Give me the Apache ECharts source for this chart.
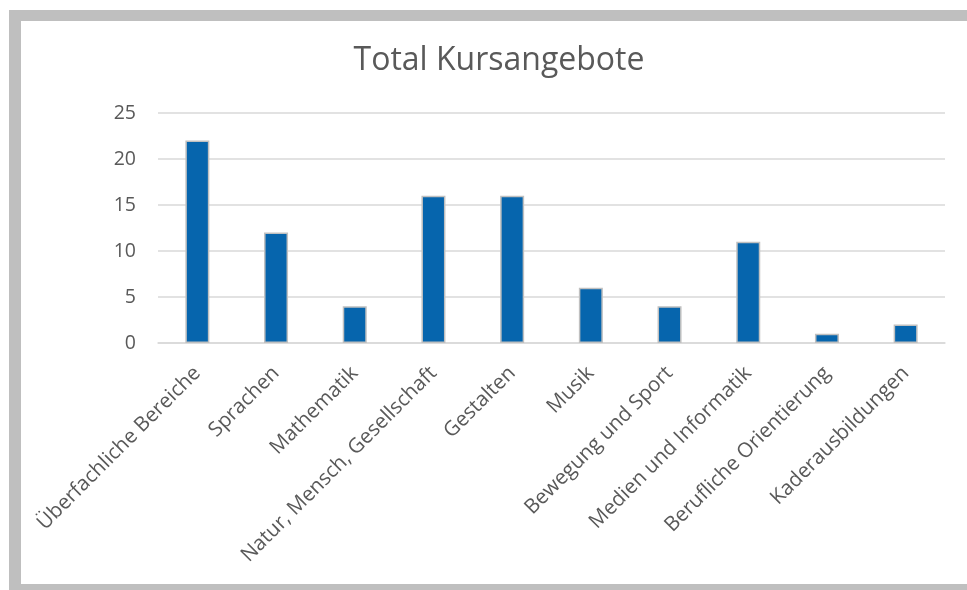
<!DOCTYPE html>
<html><head><meta charset="utf-8">
<script src="https://cdn.jsdelivr.net/npm/echarts@6/dist/echarts.min.js"></script>
<style>html,body{margin:0;padding:0;background:#fff}#c{width:967px;height:590px}</style>
</head><body><div id="c"></div>
<script>
const categories = ["Überfachliche Bereiche","Sprachen","Mathematik","Natur, Mensch, Gesellschaft","Gestalten","Musik","Bewegung und Sport","Medien und Informatik","Berufliche Orientierung","Kaderausbildungen"];
const values = [22,12,4,16,16,6,4,11,1,2];
const yTicks = {min:0,max:25,interval:5};
const chart = echarts.init(document.getElementById('c'));
const font = '"Open Sans", "Noto Sans", sans-serif';
chart.setOption({
  animation:false,
  backgroundColor:'#fff',
  graphic:[
    {type:'rect',shape:{x:9,y:10,width:958,height:11},style:{fill:'#bfbfbf'}},
    {type:'rect',shape:{x:9,y:10,width:12,height:580},style:{fill:'#bfbfbf'}},
    {type:'rect',shape:{x:9,y:584,width:958,height:6},style:{fill:'#bfbfbf'}}
  ],
  title:{text:'Total Kursangebote',left:494,textAlign:'center',top:40,textStyle:{fontFamily:font,fontSize:32,fontWeight:'normal',color:'#595959'}},
  grid:{left:158,right:22,top:113,bottom:247,containLabel:false},
  xAxis:{type:'category',data:categories,
    axisLine:{lineStyle:{color:'#d9d9d9',width:1.5}},axisTick:{show:false},
    axisLabel:{rotate:45,interval:0,margin:27,fontFamily:font,fontSize:20.5,color:'#595959'}},
  yAxis:{type:'value',min:yTicks.min,max:yTicks.max,interval:yTicks.interval,
    axisLine:{show:false},axisTick:{show:false},
    splitLine:{lineStyle:{color:'#d9d9d9',width:1.5}},
    axisLabel:{margin:22,fontFamily:font,fontSize:19.5,color:'#595959'}},
  series:[{type:'bar',data:values,barWidth:24,
    itemStyle:{color:'#0665ad',borderColor:'#c0c0c0',borderWidth:1.5}}]
});
</script></body></html>
